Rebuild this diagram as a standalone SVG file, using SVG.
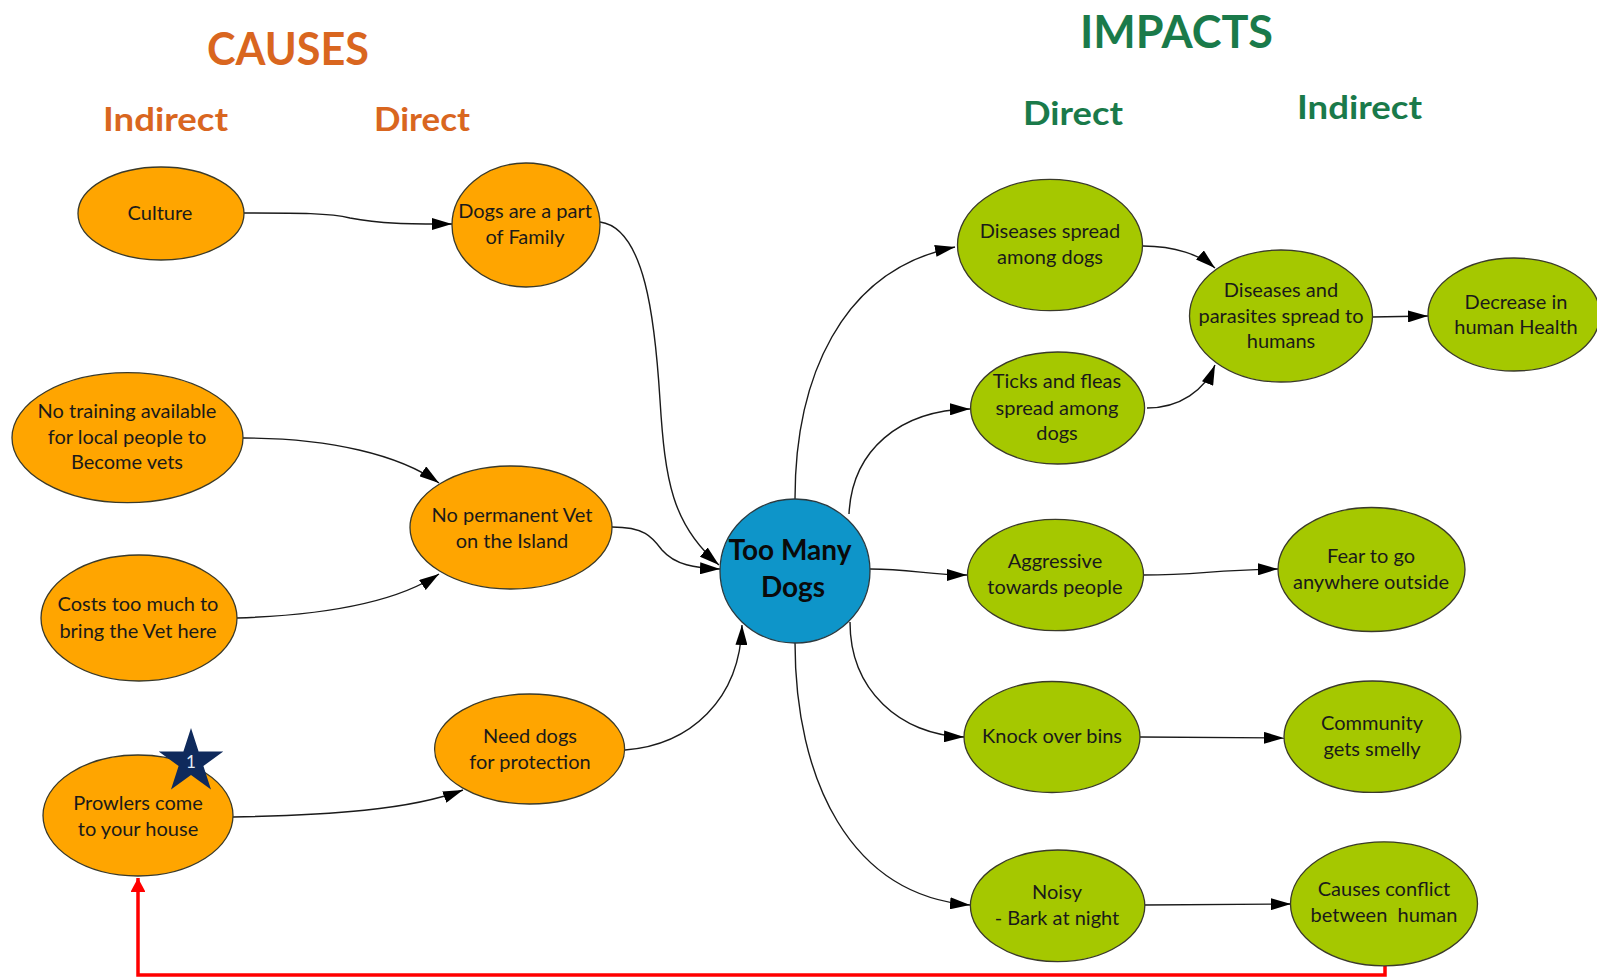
<svg xmlns="http://www.w3.org/2000/svg" width="1597" height="977" viewBox="0 0 1597 977">
<style>
  .bg{fill:#ffffff}
  .cause{fill:#FFA500;stroke:#3a3a2a;stroke-width:1.3}
  .impact{fill:#A5C800;stroke:#3a3a2a;stroke-width:1.3}
  .core{fill:#0E95C9;stroke:#2a3a40;stroke-width:1.3}
  .t{font-family:Lato,"Open Sans","Liberation Sans",sans-serif;font-size:20px;fill:#1a1a1a;text-anchor:middle}
  .tc{font-family:Lato,"Open Sans","Liberation Sans",sans-serif;font-size:28px;font-weight:700;fill:#0a0a0a;text-anchor:middle}
  .hc{font-family:Lato,"Open Sans","Liberation Sans",sans-serif;font-weight:700;fill:#D9661F}
  .hi{font-family:Lato,"Open Sans","Liberation Sans",sans-serif;font-weight:700;fill:#1A7A4A}
  .edge{fill:none;stroke:#1a1a1a;stroke-width:1.4}
  .red{fill:none;stroke:#FF0000;stroke-width:3.5}
</style>
<defs>
  <marker id="arr" markerUnits="userSpaceOnUse" markerWidth="20" markerHeight="12" refX="20" refY="6" orient="auto">
    <path d="M0,0 L20,6 L0,12 z" fill="#000"/>
  </marker>
  <marker id="arrRed" markerUnits="userSpaceOnUse" markerWidth="15" markerHeight="14" refX="14" refY="7.5" orient="auto">
    <path d="M0,0 L14,7.5 L0,15 z" fill="#FF0000"/>
  </marker>
</defs>
<rect class="bg" x="0" y="0" width="1597" height="977"/>

<g id="headers">
  <text class="hc" x="207" y="65" font-size="46" textLength="162" lengthAdjust="spacingAndGlyphs">CAUSES</text>
  <text class="hc" x="103" y="131" font-size="33" textLength="125" lengthAdjust="spacingAndGlyphs">Indirect</text>
  <text class="hc" x="374" y="131" font-size="33" textLength="96" lengthAdjust="spacingAndGlyphs">Direct</text>
  <text class="hi" x="1080" y="48" font-size="46" textLength="193" lengthAdjust="spacingAndGlyphs">IMPACTS</text>
  <text class="hi" x="1023" y="125" font-size="33" textLength="100" lengthAdjust="spacingAndGlyphs">Direct</text>
  <text class="hi" x="1297" y="119" font-size="33" textLength="125" lengthAdjust="spacingAndGlyphs">Indirect</text>
</g>

<g id="connectors">
  <path class="edge" marker-end="url(#arr)" d="M244,213 C300,213 330,213 350,218 C380,224 410,224 452,224"/>
  <path class="edge" marker-end="url(#arr)" d="M600,222 C645,228 655,320 660,400 C665,480 672,525 719,565"/>
  <path class="edge" marker-end="url(#arr)" d="M243,438 C330,438 400,455 439,483"/>
  <path class="edge" marker-end="url(#arr)" d="M237,618 C330,615 400,600 439,574"/>
  <path class="edge" marker-end="url(#arr)" d="M612,527 C645,527 652,537 662,550 C675,565 695,568 720,569"/>
  <path class="edge" marker-end="url(#arr)" d="M233,817 C330,815 410,810 463,790"/>
  <path class="edge" marker-end="url(#arr)" d="M625,750 C690,745 740,700 742,625"/>
  <path class="edge" marker-end="url(#arr)" d="M795,499 C795,380 840,270 955,247"/>
  <path class="edge" marker-end="url(#arr)" d="M849,514 C852,450 900,410 970,409"/>
  <path class="edge" marker-end="url(#arr)" d="M870,569 C910,569 930,575 967,575"/>
  <path class="edge" marker-end="url(#arr)" d="M850,622 C850,690 900,735 964,737"/>
  <path class="edge" marker-end="url(#arr)" d="M795,642 C795,780 850,895 970,905"/>
  <path class="edge" marker-end="url(#arr)" d="M1143,246 C1175,246 1200,255 1215,268"/>
  <path class="edge" marker-end="url(#arr)" d="M1147,408 C1180,408 1205,390 1215,365"/>
  <path class="edge" marker-end="url(#arr)" d="M1372,317 L1428,316"/>
  <path class="edge" marker-end="url(#arr)" d="M1143,575 C1200,575 1210,570 1278,569"/>
  <path class="edge" marker-end="url(#arr)" d="M1140,737 L1284,738"/>
  <path class="edge" marker-end="url(#arr)" d="M1145,905 L1291,904"/>
  <path class="red" marker-end="url(#arrRed)" d="M1385,966 L1385,975 L138,975 L138,878"/>
</g>

<g id="culture">
  <ellipse class="cause" cx="161" cy="213.5" rx="83" ry="46.5"/>
  <text class="t" x="160" y="220">Culture</text>
</g>
<g id="dogs-family">
  <ellipse class="cause" cx="526" cy="225" rx="74" ry="62"/>
  <text class="t" x="525" y="218">Dogs are a part</text>
  <text class="t" x="525" y="244">of Family</text>
</g>
<g id="no-training">
  <ellipse class="cause" cx="127.5" cy="437.7" rx="115.5" ry="65"/>
  <text class="t" x="127" y="418">No training available</text>
  <text class="t" x="127" y="444">for local people to</text>
  <text class="t" x="127" y="469">Become vets</text>
</g>
<g id="no-vet">
  <ellipse class="cause" cx="511" cy="527.5" rx="101" ry="61.5"/>
  <text class="t" x="512" y="522">No permanent Vet</text>
  <text class="t" x="512" y="548">on the Island</text>
</g>
<g id="costs">
  <ellipse class="cause" cx="139" cy="618" rx="98" ry="63"/>
  <text class="t" x="138" y="611">Costs too much to</text>
  <text class="t" x="138" y="638">bring the Vet here</text>
</g>
<g id="prowlers">
  <ellipse class="cause" cx="138" cy="815.5" rx="95" ry="60.5"/>
  <text class="t" x="138" y="810">Prowlers come</text>
  <text class="t" x="138" y="836">to your house</text>
  <polygon fill="#0F2A5C" points="191,728 198.6,751.5 223.3,751.5 203.4,766 211,789.5 191,775 171,789.5 178.6,766 158.7,751.5 183.4,751.5"/>
  <text x="191" y="768" font-family="Lato,'Liberation Sans',sans-serif" font-size="17" fill="#E3ECF5" text-anchor="middle">1</text>
</g>
<g id="need-dogs">
  <ellipse class="cause" cx="529.6" cy="749" rx="95" ry="55"/>
  <text class="t" x="530" y="743">Need dogs</text>
  <text class="t" x="530" y="769">for protection</text>
</g>
<g id="too-many-dogs">
  <ellipse class="core" cx="795" cy="571" rx="75" ry="72"/>
  <text class="tc" x="790" y="560">Too Many</text>
  <text class="tc" x="793" y="597">Dogs</text>
</g>
<g id="diseases-dogs">
  <ellipse class="impact" cx="1050" cy="245" rx="92.5" ry="65.7"/>
  <text class="t" x="1050" y="238">Diseases spread</text>
  <text class="t" x="1050" y="264">among dogs</text>
</g>
<g id="ticks">
  <ellipse class="impact" cx="1057.6" cy="408" rx="87" ry="56"/>
  <text class="t" x="1057" y="388">Ticks and fleas</text>
  <text class="t" x="1057" y="415">spread among</text>
  <text class="t" x="1057" y="440">dogs</text>
</g>
<g id="diseases-humans">
  <ellipse class="impact" cx="1281" cy="316" rx="91.5" ry="66"/>
  <text class="t" x="1281" y="297">Diseases and</text>
  <text class="t" x="1281" y="323">parasites spread to</text>
  <text class="t" x="1281" y="348">humans</text>
</g>
<g id="decrease-health">
  <ellipse class="impact" cx="1514" cy="314.5" rx="86" ry="56.5"/>
  <text class="t" x="1516" y="309">Decrease in</text>
  <text class="t" x="1516" y="334">human Health</text>
</g>
<g id="aggressive">
  <ellipse class="impact" cx="1055.5" cy="575" rx="88" ry="55.7"/>
  <text class="t" x="1055" y="568">Aggressive</text>
  <text class="t" x="1055" y="594">towards people</text>
</g>
<g id="fear">
  <ellipse class="impact" cx="1371.5" cy="569.5" rx="93.5" ry="62"/>
  <text class="t" x="1371" y="563">Fear to go</text>
  <text class="t" x="1371" y="589">anywhere outside</text>
</g>
<g id="knock-bins">
  <ellipse class="impact" cx="1052" cy="737" rx="88" ry="55.5"/>
  <text class="t" x="1052" y="743">Knock over bins</text>
</g>
<g id="community-smelly">
  <ellipse class="impact" cx="1372.4" cy="736.7" rx="88.4" ry="55.7"/>
  <text class="t" x="1372" y="730">Community</text>
  <text class="t" x="1372" y="756">gets smelly</text>
</g>
<g id="noisy">
  <ellipse class="impact" cx="1057.6" cy="905.8" rx="87.2" ry="55.8"/>
  <text class="t" x="1057" y="899">Noisy</text>
  <text class="t" x="1057" y="925">- Bark at night</text>
</g>
<g id="conflict">
  <ellipse class="impact" cx="1384" cy="903.8" rx="93.5" ry="62"/>
  <text class="t" x="1384" y="896">Causes conflict</text>
  <text class="t" x="1384" y="922" xml:space="preserve">between  human</text>
</g>
</svg>
